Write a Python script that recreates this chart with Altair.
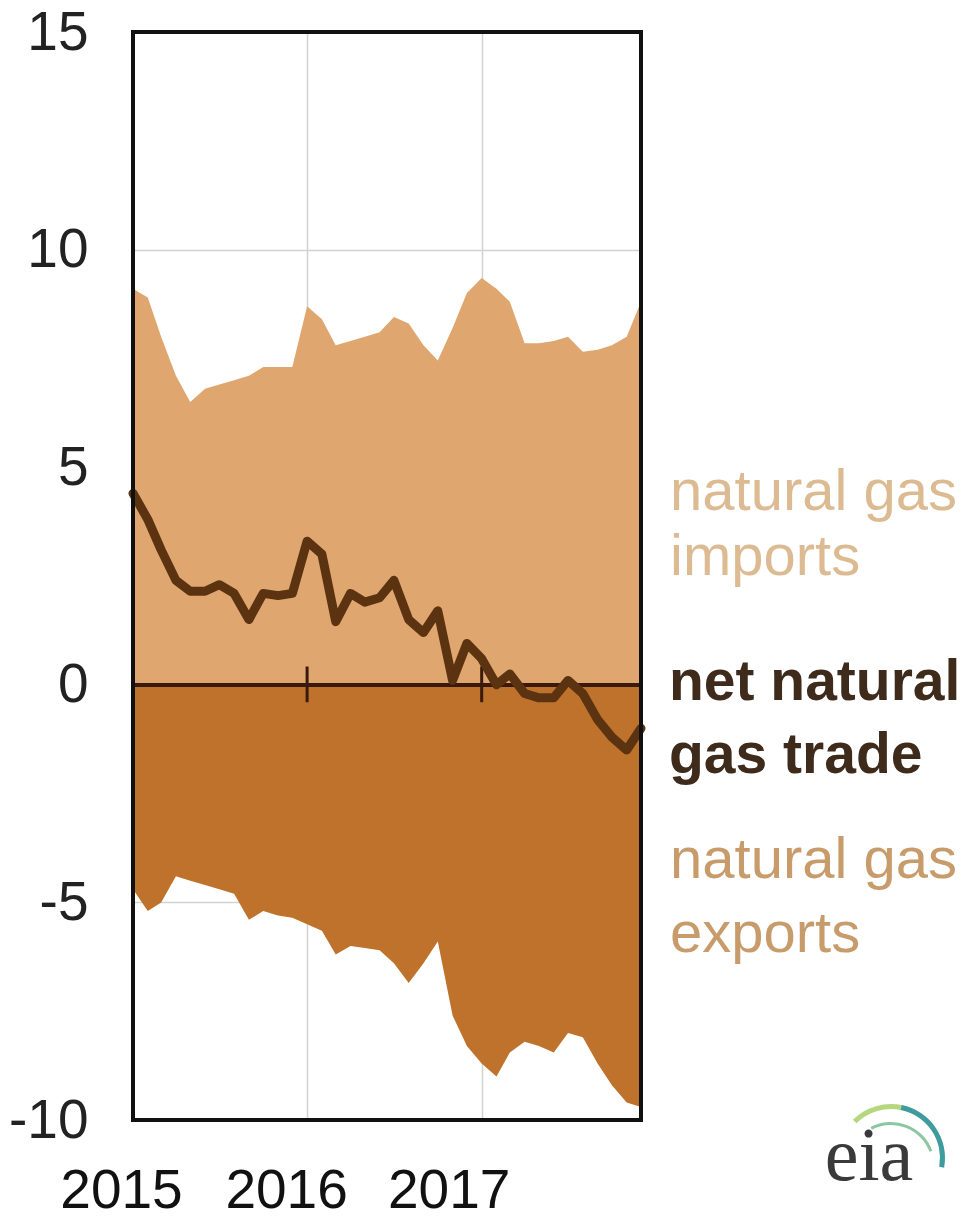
import altair as alt
import pandas as pd

# ---- data, monthly Jan 2015 .. Dec 2017, Bcf/d ----
months = pd.date_range("2015-01-01", "2017-12-01", freq="MS")

imports = [9.1, 8.9, 8.0, 7.1, 6.5, 6.8, 6.9, 7.0, 7.1, 7.3, 7.3, 7.3,
           8.7, 8.4, 7.8, 7.9, 8.0, 8.1, 8.45, 8.3, 7.8, 7.45, 8.2, 9.0,
           9.35, 9.1, 8.8, 7.85, 7.85, 7.9, 8.0, 7.65, 7.7, 7.8, 8.0, 8.8]

exports = [-4.7, -5.2, -5.0, -4.4, -4.5, -4.6, -4.7, -4.8, -5.4, -5.2, -5.3, -5.35,
           -5.5, -5.65, -6.2, -6.0, -6.05, -6.1, -6.4, -6.85, -6.4, -5.9, -7.6, -8.3,
           -8.7, -9.0, -8.45, -8.2, -8.3, -8.45, -8.0, -8.1, -8.7, -9.2, -9.6, -9.7]

net = [4.4, 3.8, 3.1, 2.4, 2.15, 2.15, 2.3, 2.1, 1.5, 2.1, 2.05, 2.1,
       3.3, 3.0, 1.45, 2.1, 1.9, 2.0, 2.4, 1.5, 1.2, 1.7, 0.1, 0.95,
       0.6, 0.0, 0.25, -0.2, -0.3, -0.3, 0.1, -0.2, -0.8, -1.2, -1.5, -1.0]

year_ticks = ["2015-01-01", "2016-01-01", "2017-01-01"]
y_ticks = [-10, -5, 0, 5, 10, 15]

label_text = ["natural gas", "imports", "natural gas", "exports"]
label_y = [4.02, 2.53, -4.45, -6.15]
label_color = ["#DDBB92", "#DDBB92", "#C89B6B", "#C89B6B"]
bold_text = ["net natural", "gas trade"]
bold_y = [-0.34, -2.02]

df = pd.DataFrame({"date": months, "imports": imports, "exports": exports, "net": net})
ticks_df = pd.DataFrame({"date": pd.to_datetime(year_ticks[1:])})
lab_df = pd.DataFrame({"t": label_text, "y": label_y, "c": label_color})
bold_df = pd.DataFrame({"t": bold_text, "y": bold_y})

W, H = 508, 1088
xscale = alt.Scale(domain=[pd.Timestamp("2015-01-01").isoformat(), pd.Timestamp("2017-12-01").isoformat()], nice=False)
yscale = alt.Scale(domain=[-10, 15], nice=False, zero=False)

FONT = "Liberation Sans, Arial"

x_enc = alt.X("date:T", scale=xscale,
              axis=alt.Axis(values=[pd.Timestamp(v).isoformat() for v in year_ticks], format="%Y",
                            labelFont=FONT, labelFontSize=55, labelColor="#111",
                            labelPadding=44,
                            labelOffset={"condition": [
                                {"test": "year(datum.value) == 2015", "value": -12},
                                {"test": "year(datum.value) == 2017", "value": -33}],
                                "value": -21},
                            ticks=False, domain=False,
                            grid=True, gridColor="#d2d2d2", gridWidth=1.5,
                            labelAlign="center", labelFlush=False, title=None))
y_axis = alt.Axis(values=y_ticks, labelFont=FONT, labelFontSize=55, labelColor="#222",
                  labelExpr="'' + datum.value",
                  labelPadding=45, ticks=False, domain=False, grid=True,
                  gridColor="#d2d2d2", gridWidth=1.5, title=None)

base = alt.Chart(df)

imp_area = base.mark_area(color="#DFA76F", opacity=1).encode(
    x=x_enc, y=alt.Y("imports:Q", scale=yscale, axis=y_axis), y2=alt.datum(0))
exp_area = base.mark_area(color="#BF722B", opacity=1).encode(
    x="date:T", y=alt.Y("exports:Q", scale=yscale), y2=alt.datum(0))

zero_rule = base.mark_rule(color="#3A1A0E", strokeWidth=3).encode(y=alt.datum(0))
tick_rules = alt.Chart(ticks_df).mark_rule(color="#3A1A0E", strokeWidth=3).encode(
    x="date:T", y=alt.datum(0.42), y2=alt.datum(-0.4))

net_line = base.mark_line(color="#5C3311", strokeWidth=9, strokeJoin="round", strokeCap="round").encode(
    x="date:T", y=alt.Y("net:Q", scale=yscale))

frame = base.mark_rect(filled=False, stroke="#111", strokeWidth=3).encode(
    x=alt.value(0), x2=alt.value(W), y=alt.value(0), y2=alt.value(H))

labels = alt.Chart(lab_df).mark_text(align="left", baseline="alphabetic", font=FONT,
                                      fontSize=58).encode(
    x=alt.value(537), y=alt.Y("y:Q", scale=yscale), text="t:N", color=alt.Color("c:N", scale=None))
bold_labels = alt.Chart(bold_df).mark_text(align="left", baseline="alphabetic", font=FONT,
                                           fontSize=57, fontWeight="bold", color="#3E2B1C").encode(
    x=alt.value(536), y=alt.Y("y:Q", scale=yscale), text="t:N")

logo_text = alt.Chart(pd.DataFrame({"t": ["eia"]})).mark_text(
    font="Liberation Serif, DejaVu Serif", fontSize=76, color="#3a3a3a", align="center", baseline="alphabetic").encode(
    x=alt.value(736), y=alt.value(1148), text="t:N")
arc1 = alt.Chart(pd.DataFrame({"a": [1]})).mark_arc(
    color="#B5D77E", radius=54, radius2=49, theta=5.5, theta2=6.5).encode(x=alt.value(758), y=alt.value(1126))
arc2 = alt.Chart(pd.DataFrame({"a": [1]})).mark_arc(
    color="#3E9C9E", radius=54, radius2=49, theta=0.2, theta2=1.75).encode(x=alt.value(758), y=alt.value(1126))
arc3 = alt.Chart(pd.DataFrame({"a": [1]})).mark_arc(
    color="#8CC7A2", radius=44, radius2=41, theta=5.8, theta2=7.5).encode(x=alt.value(758), y=alt.value(1134))

chart = alt.layer(imp_area, exp_area, zero_rule, tick_rules, net_line, frame, labels, bold_labels,
                  logo_text, arc1, arc2, arc3).properties(
    width=W, height=H,
    autosize=alt.AutoSizeParams(type="none"),
    padding={"left": 133, "top": 32, "right": 333, "bottom": 98},
    background="white",
).configure_view(stroke=None)

chart.save("out.html", embed_options={"renderer": "svg", "actions": False})
